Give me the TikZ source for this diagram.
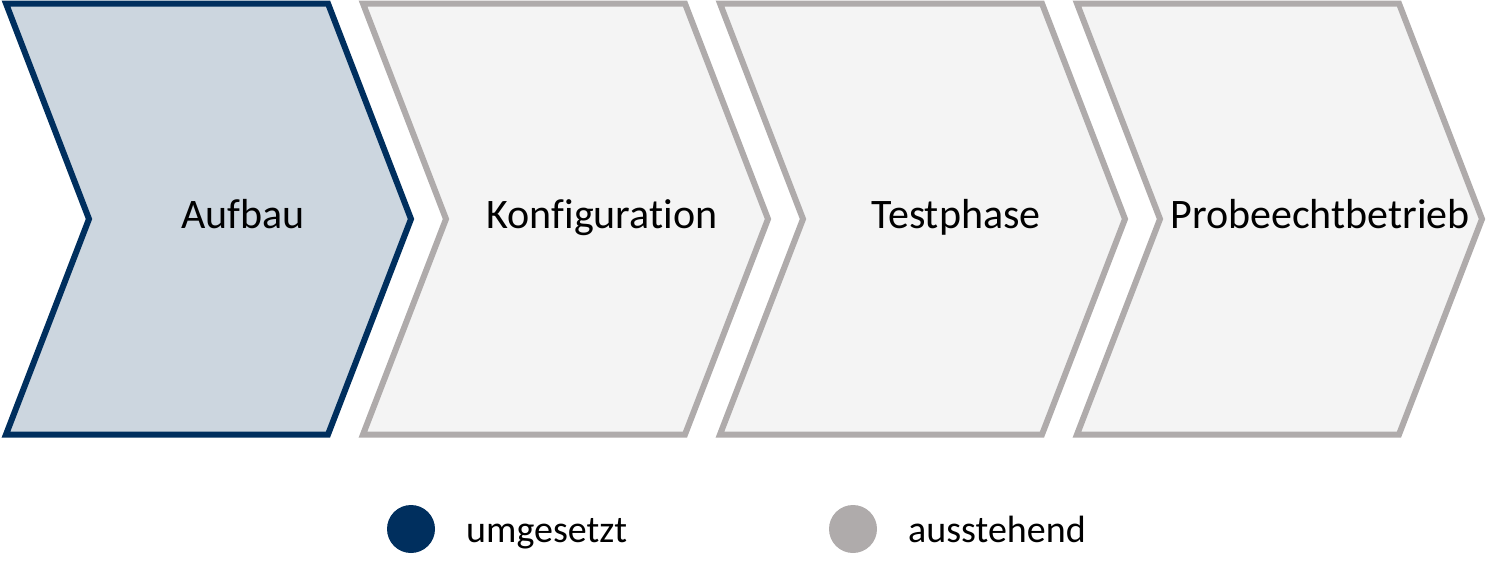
\documentclass[tikz,border=0pt]{standalone}
\usepackage{fontspec}
\setmainfont{Carlito}[Ligatures={NoCommon}]
\definecolor{navy}{HTML}{002F5E}
\definecolor{navyfill}{HTML}{CCD6DF}
\definecolor{greyline}{HTML}{AFABAB}
\definecolor{greyfill}{HTML}{F4F4F4}
\begin{document}
\begin{tikzpicture}[x=1pt,y=-1pt,
  done/.style={draw=navy,fill=navyfill,line width=6pt},
  todo/.style={draw=greyline,fill=greyfill,line width=6pt},
  lbl/.style={font=\fontsize{42}{48}\selectfont,anchor=base,inner sep=0pt},
  leg/.style={font=\fontsize{38}{44}\selectfont,anchor=base west,inner sep=0pt},
  dot/.style={circle,minimum size=48pt,inner sep=0pt}]
\useasboundingbox (0,0) rectangle (1500,576);
\foreach \i/\st in {0/done,1/todo,2/todo,3/todo}{
  \pgfmathsetmacro{\xo}{6+357*\i}
  \draw[\st] (\xo,3.5) -- (\xo+322,3.5) -- (\xo+405,219) -- (\xo+322,434.5)
     -- (\xo,434.5) -- (\xo+83,219) -- cycle;
}
\node[lbl] (t1) at (243,228) {Aufbau};
\node[lbl] (t2) at (602,228) {Konfiguration};
\node[lbl] (t3) at (956,228) {Testphase};
\node[lbl] (t4) at (1320,228) {Probeechtbetrieb};
\node[dot,fill=navy] (d1) at (411,529) {};
\node[dot,fill=greyline] (d2) at (853,529) {};
\node[leg] (l1) at (466,542) {umgesetzt};
\node[leg] (l2) at (908,542) {ausstehend};
\end{tikzpicture}
\end{document}
